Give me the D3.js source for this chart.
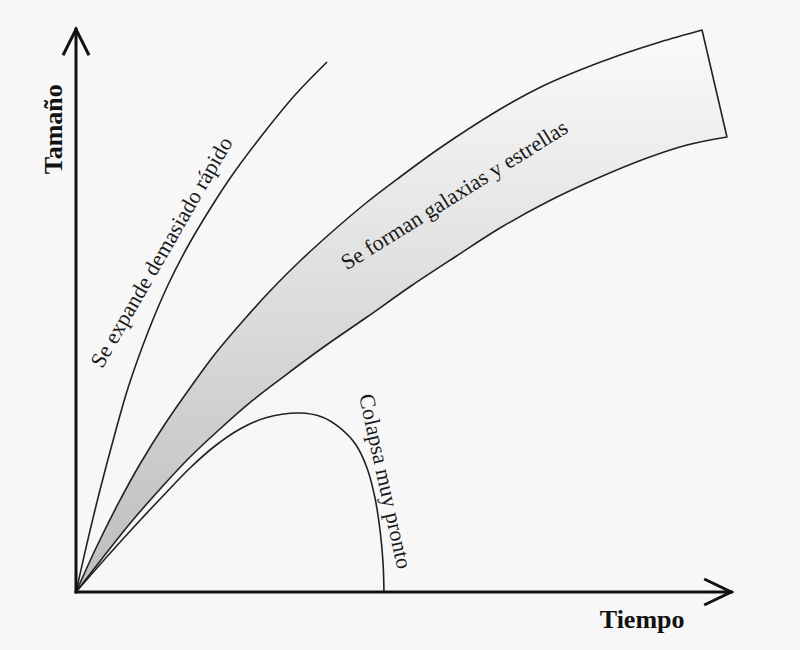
<!DOCTYPE html>
<html>
<head>
<meta charset="utf-8">
<script src="https://cdn.jsdelivr.net/npm/d3@7"></script>
<style>
  html, body { margin: 0; padding: 0; background: #f7f7f7; }
  svg { display: block; }
</style>
</head>
<body>
<svg id="chart" width="800" height="650"></svg>
<script>
// Curve data (time, size), in arbitrary units 0..100
var expandT   = [0, 1.85, 3.69, 5.85, 8.0, 11.08, 14.15, 17.23, 20.62, 24.15, 28.77, 33.69, 38.62];
var expandS   = [0, 9.38, 18.05, 27.43, 36.11, 46.02, 54.34, 61.24, 67.79, 73.98, 81.06, 87.96, 93.81];

var bandTopT  = [0, 3.08, 6.46, 9.85, 13.69, 17.54, 21.38, 25.54, 29.85, 34.46, 39.54, 44.62, 49.85, 55.54, 61.08, 66.62, 72.15, 77.54, 83.69, 89.85, 96.31];
var bandTopS  = [0, 7.79, 15.58, 22.65, 29.73, 36.11, 42.12, 47.79, 53.27, 58.58, 63.89, 68.85, 73.45, 78.23, 82.48, 86.37, 89.73, 92.39, 95.04, 97.35, 99.47];

var bandLowT  = [0, 4.31, 8.62, 13.08, 17.54, 22.31, 27.08, 31.85, 38.31, 44.77, 51.54, 58.31, 65.23, 72.77, 80.31, 87.85, 94.0, 100.15];
var bandLowS  = [0, 6.37, 12.57, 18.41, 23.89, 29.03, 33.81, 38.05, 43.54, 48.67, 54.16, 59.29, 64.42, 69.2, 73.27, 76.81, 79.12, 80.53];

var collapseT = [0, 4.31, 8.62, 13.08, 17.54, 21.38, 25.23, 29.08, 34.46, 37.85, 40.62, 43.08, 44.77, 46.0, 46.77, 47.23, 47.38];
var collapseS = [0, 5.66, 11.15, 16.64, 21.95, 25.84, 28.85, 30.8, 31.68, 30.97, 29.03, 26.02, 21.95, 16.64, 10.97, 5.31, 0];

// Text labels: text, position (time, size), angle
var labelTexts  = ["Se expande demasiado rápido", "Se forman galaxias y estrellas", "Colapsa muy pronto"];
var labelT      = [14.1, 58.8, 46.5];
var labelS      = [59.5, 69.2, 19.3];
var labelAngles = [-60, -32, 77.5];

var axisTitles = ["Tiempo", "Tamaño"];
var axisEnds   = [100.8, 99.6];   // arrow tips (time, size)

var svg = d3.select("#chart");
var W = 800, H = 650;

var x = d3.scaleLinear().domain([0, 100]).range([76, 726]);
var y = d3.scaleLinear().domain([0, 100]).range([592, 27]);

function pts(ts, ss) {
    return ts.map(function(t, i) { return [t, ss[i]]; });
}

var line = d3.line()
    .x(function(d) { return x(d[0]); })
    .y(function(d) { return y(d[1]); })
    .curve(d3.curveCatmullRom.alpha(0.5));

// background
svg.append("rect").attr("width", W).attr("height", H).attr("fill", "#f7f7f7");

// gradient for the band
var defs = svg.append("defs");
var grad = defs.append("linearGradient")
    .attr("id", "bandGrad")
    .attr("gradientUnits", "userSpaceOnUse")
    .attr("x1", 0).attr("y1", y(100)).attr("x2", 0).attr("y2", y(0));
grad.append("stop").attr("offset", "0%").attr("stop-color", "#fbfbfb");
grad.append("stop").attr("offset", "100%").attr("stop-color", "#bcbcbc");

// band: top edge, then straight right edge, then lower edge back to origin
var topPath = line(pts(bandTopT, bandTopS));
var lowPath = line(pts(bandLowT, bandLowS).reverse());
svg.append("path")
    .attr("d", topPath + "L" + lowPath.slice(1) + "Z")
    .attr("fill", "url(#bandGrad)")
    .attr("stroke", "#222")
    .attr("stroke-width", 1.6)
    .attr("stroke-linejoin", "round");

// other curves
[[expandT, expandS], [collapseT, collapseS]].forEach(function(c) {
    svg.append("path")
        .attr("d", line(pts(c[0], c[1])))
        .attr("fill", "none")
        .attr("stroke", "#222")
        .attr("stroke-width", 1.6);
});

// axes with open arrowheads
var axisG = svg.append("g")
    .attr("stroke", "#111")
    .attr("stroke-width", 3)
    .attr("fill", "none")
    .attr("stroke-linecap", "square");

axisG.append("line")
    .attr("x1", x(0)).attr("y1", y(0))
    .attr("x2", x(axisEnds[0])).attr("y2", y(0));
axisG.append("line")
    .attr("x1", x(0)).attr("y1", y(0))
    .attr("x2", x(0)).attr("y2", y(axisEnds[1]));

var tipX = x(axisEnds[0]), tipY = y(axisEnds[1]);
axisG.append("path")
    .attr("stroke-linecap", "butt")
    .attr("d", "M" + (tipX - 27) + "," + (y(0) - 13) + "L" + tipX + "," + y(0) + "L" + (tipX - 27) + "," + (y(0) + 13));
axisG.append("path")
    .attr("stroke-linecap", "butt")
    .attr("d", "M" + (x(0) - 13) + "," + (tipY + 26) + "L" + x(0) + "," + tipY + "L" + (x(0) + 13) + "," + (tipY + 26));

// axis titles
svg.append("text")
    .attr("x", x(87.1)).attr("y", y(-6.4))
    .attr("text-anchor", "middle")
    .attr("font-family", "Liberation Serif, Times New Roman, serif")
    .attr("font-weight", "bold")
    .attr("font-size", 26)
    .attr("fill", "#111")
    .text(axisTitles[0]);

svg.append("text")
    .attr("transform", "translate(" + x(-2.15) + "," + y(81.9) + ") rotate(-90)")
    .attr("text-anchor", "middle")
    .attr("font-family", "Liberation Serif, Times New Roman, serif")
    .attr("font-weight", "bold")
    .attr("font-size", 26)
    .attr("fill", "#111")
    .text(axisTitles[1]);

// curve labels
labelTexts.forEach(function(t, i) {
    svg.append("text")
        .attr("transform", "translate(" + x(labelT[i]) + "," + y(labelS[i]) + ") rotate(" + labelAngles[i] + ")")
        .attr("text-anchor", "middle")
        .attr("font-family", "Liberation Serif, Times New Roman, serif")
        .attr("font-size", 22)
        .attr("fill", "#1a1a1a")
        .text(t);
});
</script>
</body>
</html>
